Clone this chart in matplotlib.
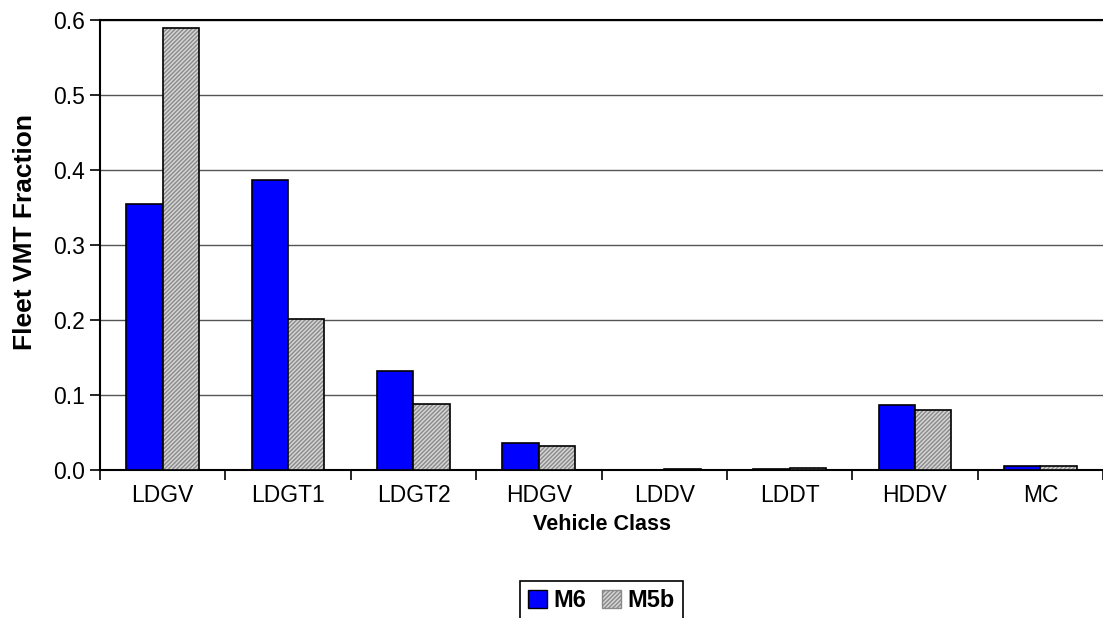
import numpy as np
import matplotlib
matplotlib.use("Agg")
from matplotlib import pyplot as plt
from matplotlib.patches import Patch

plt.rcParams['font.family'] = ['Liberation Sans', 'DejaVu Sans']

classes = ["LDGV", "LDGT1", "LDGT2", "HDGV", "LDDV", "LDDT", "HDDV", "MC"]
m6 = [0.355, 0.387, 0.132, 0.036, 0.0, 0.001, 0.086, 0.005]
m5b = [0.589, 0.201, 0.088, 0.032, 0.001, 0.002, 0.080, 0.005]
yticks = [0.0, 0.1, 0.2, 0.3, 0.4, 0.5, 0.6]

fig = plt.figure(figsize=(11.03, 6.18), dpi=100)
ax = fig.add_axes([0.0907, 0.2395, 0.9093, 0.7281])

x = np.arange(len(classes)) + 0.5
w = 0.29

ax.bar(x - w / 2, m6, w, color="#0000ff", edgecolor="black", linewidth=1.2, zorder=3)
# hatched gray bars: hatch drawn first, then black outline
ax.bar(x + w / 2, m5b, w, color="#d4d4d4", edgecolor="#8a8a8a", hatch="////////",
       linewidth=0, zorder=3)
ax.bar(x + w / 2, m5b, w, fill=False, edgecolor="black", linewidth=1.2, zorder=4)

ax.set_xlim(0, len(classes))
ax.set_ylim(0, 0.6)
ax.set_yticks(yticks)
ax.set_yticklabels(["%.1f" % v for v in yticks])
ax.yaxis.grid(True, color="#555555", linewidth=1.0, zorder=0)
ax.set_axisbelow(True)

ax.set_xticks(np.arange(len(classes) + 1))
ax.set_xticklabels([])
ax.set_xticks(x, minor=True)
ax.set_xticklabels(classes, minor=True)
ax.tick_params(axis="x", which="minor", length=0, pad=10, labelsize=16.5)
ax.tick_params(axis="x", which="major", length=7, width=1.2, direction="out")
ax.tick_params(axis="y", length=7, width=1.2, direction="out", labelsize=16.5, pad=4)

ax.spines["right"].set_visible(False)
ax.spines["top"].set_linewidth(1.5)
for s in ("left", "bottom"):
    ax.spines[s].set_linewidth(1.5)

ax.set_xlabel("Vehicle Class", fontsize=15.5, fontweight="bold", labelpad=5)
ax.set_ylabel("Fleet VMT Fraction", fontsize=19, fontweight="bold")
ax.yaxis.set_label_coords(-0.063, 0.53)

handles = [Patch(facecolor="#0000ff", edgecolor="black", label="M6"),
           Patch(facecolor="#d4d4d4", edgecolor="#8a8a8a", hatch="////////", label="M5b")]
leg = fig.legend(handles=handles, loc="upper left", bbox_to_anchor=(520 / 1103, 1 - 581 / 618),
                 ncol=2, frameon=True, fancybox=False, edgecolor="black", framealpha=1,
                 handlelength=0.8, handleheight=0.8, handletextpad=0.25, columnspacing=0.7,
                 borderpad=0.35, borderaxespad=0, prop={"weight": "bold", "size": 17})
leg.get_frame().set_linewidth(1.2)

fig.savefig("out.png", dpi=100)
